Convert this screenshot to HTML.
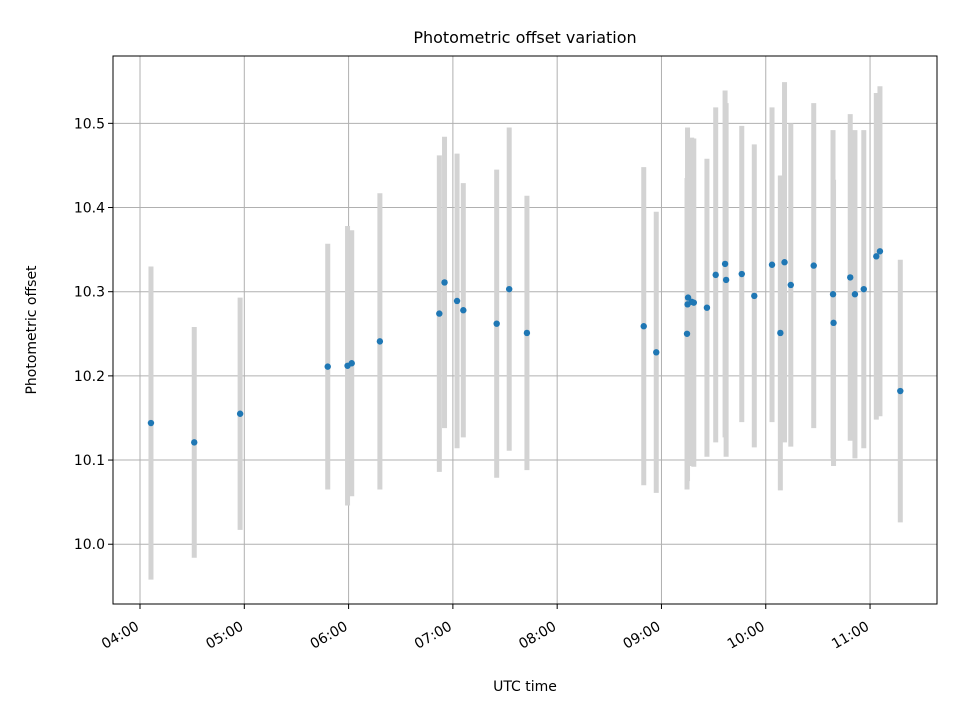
<!DOCTYPE html>
<html><head><meta charset="utf-8"><style>
body{margin:0;background:#fff;font-family:"Liberation Sans","DejaVu Sans",sans-serif}
svg text{font-family:"DejaVu Sans","Liberation Sans",sans-serif;fill:#000}
</style></head><body>
<svg id="chart" width="960" height="720" xmlns="http://www.w3.org/2000/svg">
<rect width="960" height="720" fill="#fff"/>
<g id="grid"></g><g id="bars"></g><g id="pts"></g>
<rect x="113" y="56" width="824" height="548" fill="none" stroke="#000" stroke-width="1"/>
<g id="axes"></g>
<text x="525" y="43" text-anchor="middle" font-size="16">Photometric offset variation</text>
<text x="525" y="691" text-anchor="middle" font-size="14">UTC time</text>
<text transform="translate(36,330) rotate(-90)" text-anchor="middle" font-size="14">Photometric offset</text>
</svg>
<script>
const times=[4.105,4.52,4.96,5.80,5.99,6.03,6.30,6.87,6.92,7.04,7.10,7.42,7.54,7.71,8.83,8.95,9.245,9.25,9.255,9.29,9.31,9.436,9.52,9.61,9.62,9.77,9.89,10.06,10.14,10.18,10.24,10.46,10.645,10.65,10.81,10.855,10.94,11.06,11.095,11.29];
const offsets=[10.144,10.121,10.155,10.211,10.212,10.215,10.241,10.274,10.311,10.289,10.278,10.262,10.303,10.251,10.259,10.228,10.250,10.285,10.293,10.288,10.287,10.281,10.320,10.333,10.314,10.321,10.295,10.332,10.251,10.335,10.308,10.331,10.297,10.263,10.317,10.297,10.303,10.342,10.348,10.182];
const errors=[0.186,0.137,0.138,0.146,0.166,0.158,0.176,0.188,0.173,0.175,0.151,0.183,0.192,0.163,0.189,0.167,0.185,0.21,0.18,0.195,0.195,0.177,0.199,0.206,0.21,0.176,0.18,0.187,0.187,0.214,0.192,0.193,0.195,0.17,0.194,0.195,0.189,0.194,0.196,0.156];
const xTicks=[4,5,6,7,8,9,10,11];
const xTickLabels=["04:00","05:00","06:00","07:00","08:00","09:00","10:00","11:00"];
const yTicks=[10.0,10.1,10.2,10.3,10.4,10.5];
const yTickLabels=["10.0","10.1","10.2","10.3","10.4","10.5"];
const X0=113,X1=937,Y0=56,Y1=604,xMin=3.741,xMax=11.642,yMin=9.929,yMax=10.580;
const xs=v=>X0+(v-xMin)/(xMax-xMin)*(X1-X0);
const ys=v=>Y1-(v-yMin)/(yMax-yMin)*(Y1-Y0);
const NS="http://www.w3.org/2000/svg";
function mk(t,a,p){const e=document.createElementNS(NS,t);for(const k in a)e.setAttribute(k,a[k]);p.appendChild(e);return e;}
const grid=document.getElementById('grid'),axes=document.getElementById('axes'),bars=document.getElementById('bars'),pts=document.getElementById('pts');
xTicks.forEach((t,i)=>{const x=xs(t);
 let g=mk('line',{x1:x,x2:x,y1:Y0,y2:Y1,stroke:'#b0b0b0','stroke-width':1},grid);
 
 
 let tk=mk('line',{x1:x,x2:x,y1:Y1,y2:Y1+5,stroke:'#000'},axes);
 
 
 let tx=mk('text',{'text-anchor':'end','font-size':14,transform:`translate(${x},${Y1+25}) rotate(-30)`},axes);
 tx.textContent=xTickLabels[i];
 
 
});
yTicks.forEach((t,i)=>{const y=ys(t);
 let g=mk('line',{x1:X0,x2:X1,y1:y,y2:y,stroke:'#b0b0b0','stroke-width':1},grid);
 
 
 let tk=mk('line',{x1:X0-5,x2:X0,y1:y,y2:y,stroke:'#000'},axes);
 
 
 let tx=mk('text',{x:X0-8,y:y+5,'text-anchor':'end','font-size':14},axes);
 tx.textContent=yTickLabels[i];
 
 
});
times.forEach((t,i)=>{const x=xs(t);
 let b=mk('line',{x1:x,x2:x,y1:ys(offsets[i]+errors[i]),y2:ys(offsets[i]-errors[i]),stroke:'#d3d3d3','stroke-width':5},bars);
 
 
 let c=mk('circle',{cx:x,cy:ys(offsets[i]),r:3.2,fill:'#1f77b4'},pts);
 
 
});
</script>
</body></html>
